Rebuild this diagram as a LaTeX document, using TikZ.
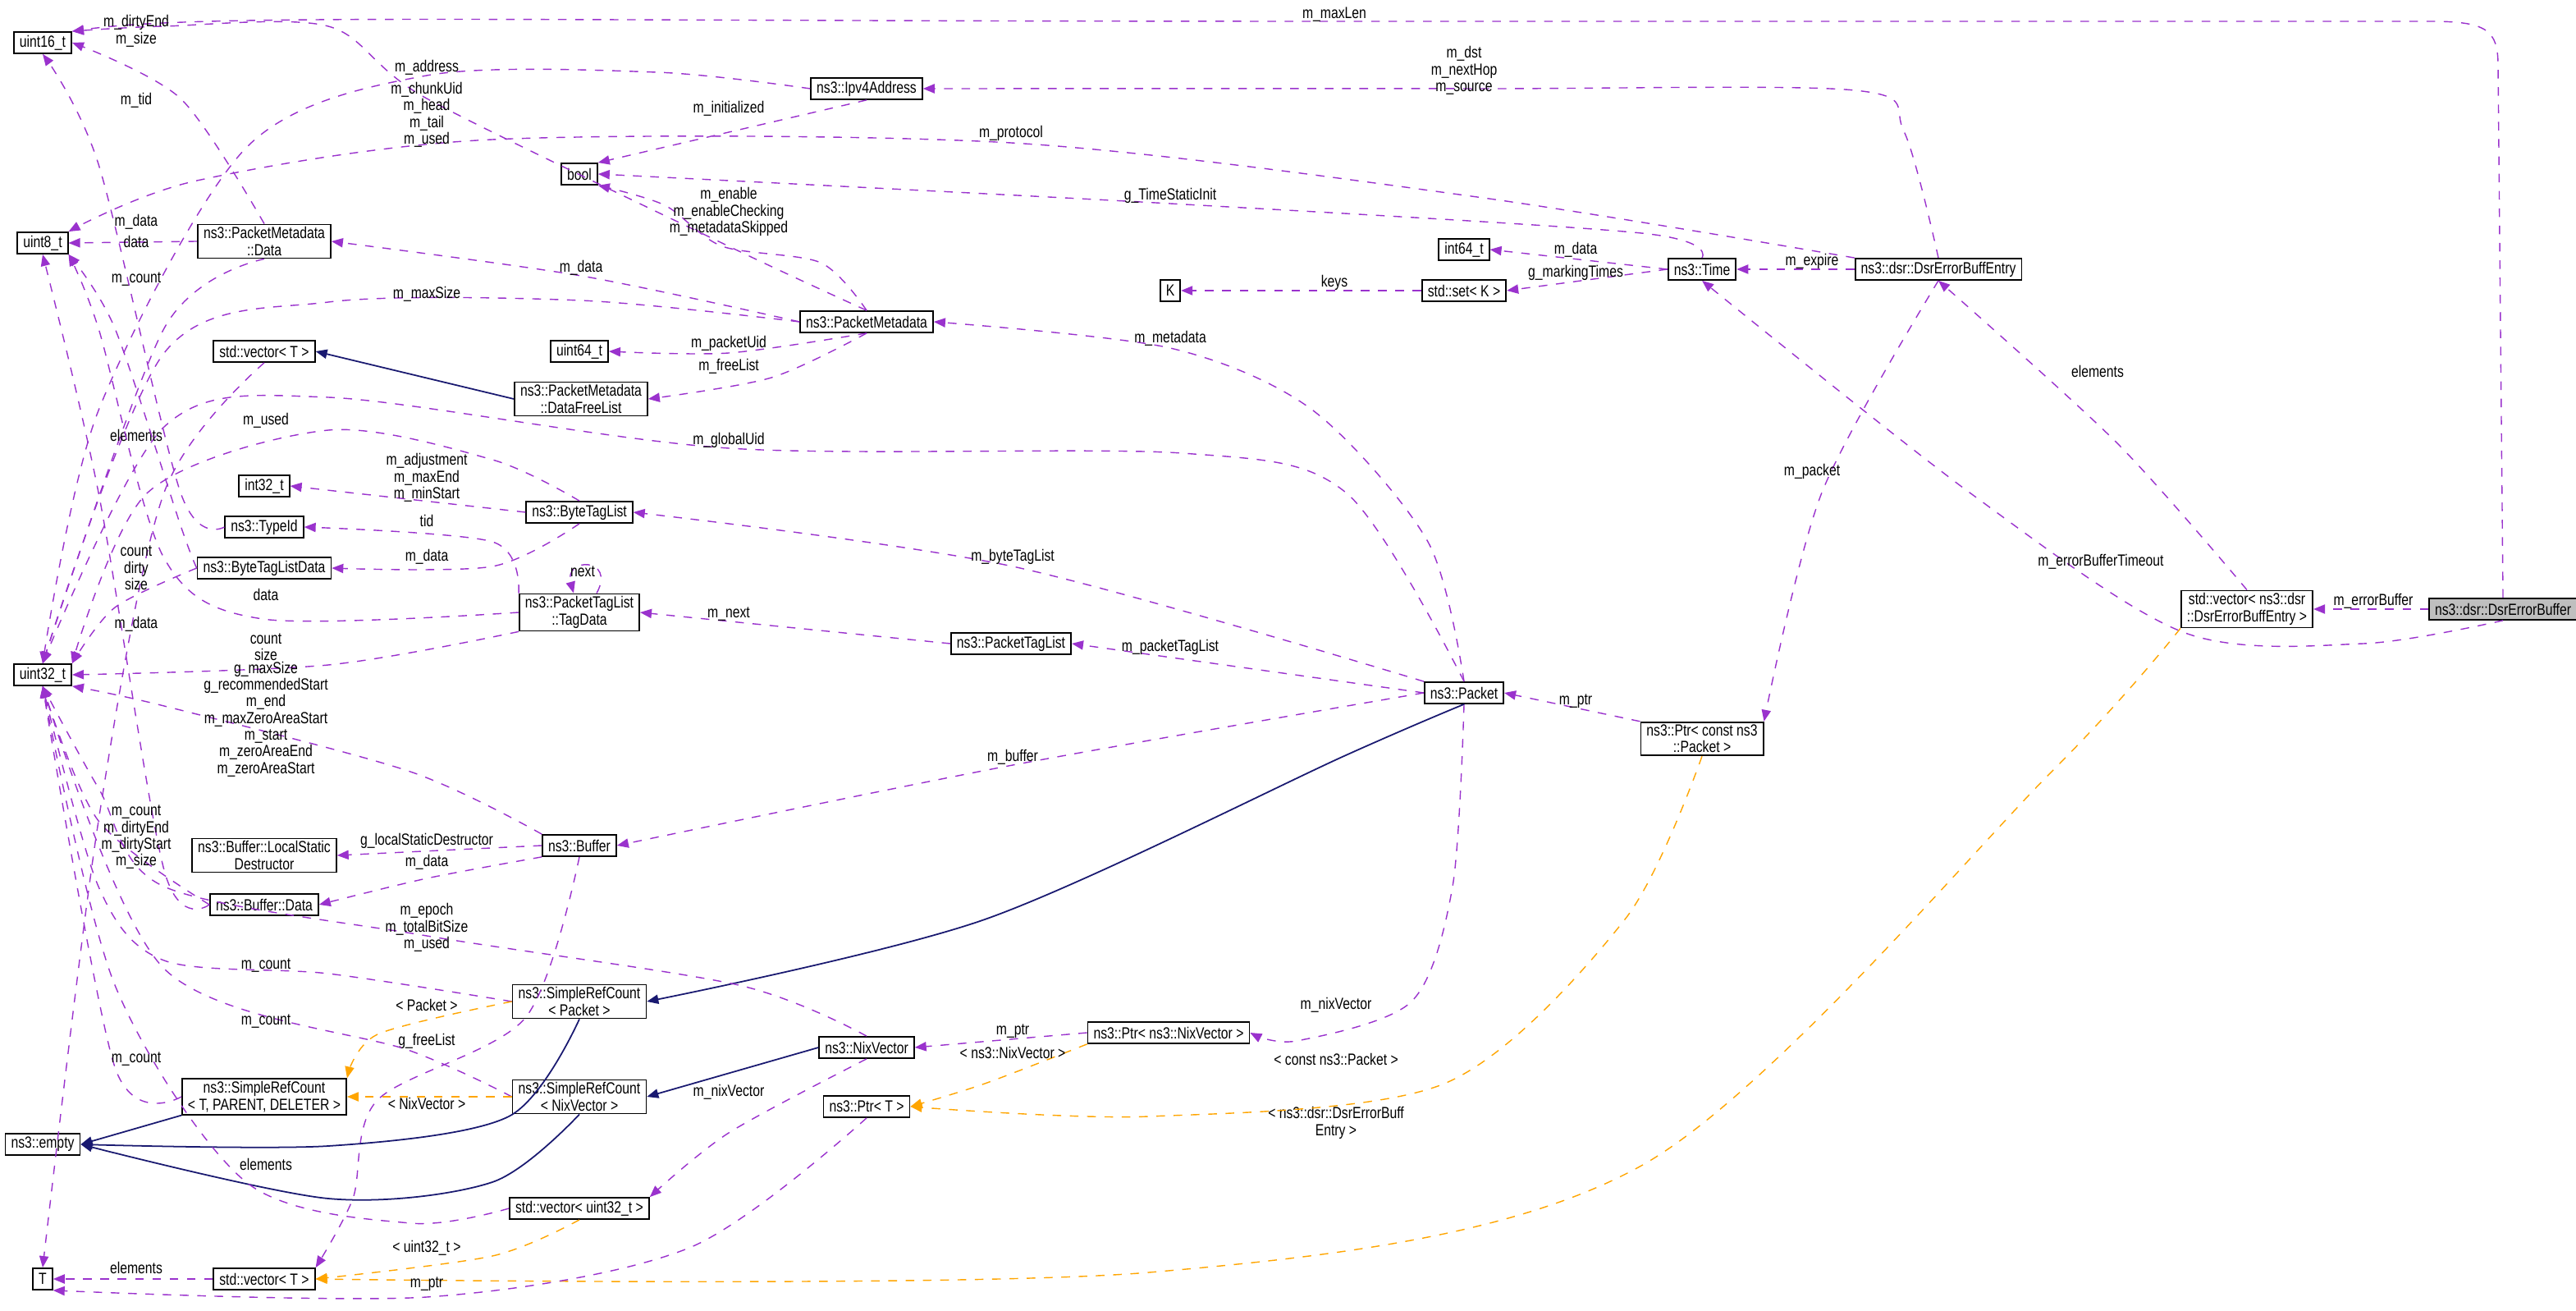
\documentclass[tikz,border=0pt]{standalone}
\usepackage{fontspec}
\setmainfont{Liberation Sans}[FakeStretch=0.8]
\usetikzlibrary{arrows.meta}
\definecolor{mem}{HTML}{9A32CD}
\definecolor{tpl}{HTML}{FFA500}
\definecolor{inh}{HTML}{191970}
\begin{document}
\begin{tikzpicture}[x=0.02cm,y=-0.02cm,
 every node/.style={font=\fontsize{5.6}{5.8}\selectfont},
 box/.style={draw,fill=white,inner xsep=2pt,inner ysep=0.9pt,minimum height=7.4pt,align=center,line width=0.5pt},
 lbl/.style={align=center,inner sep=0pt},
 memb/.style={draw=mem,dashed,-{Triangle[length=4pt,width=3.2pt]},mem,line width=0.4pt},
 tmpl/.style={draw=tpl,dashed,-{Triangle[length=4pt,width=3.2pt]},tpl,line width=0.4pt},
 inhe/.style={draw=inh,-{Triangle[length=4pt,width=3.2pt]},line width=0.5pt}]
\useasboundingbox (0,0) rectangle (1569.5,798.5);
% nodes
\node[box] (u16) at (26,26) {uint16\_t};
\node[box] (u8) at (26,148) {uint8\_t};
\node[box] (u32) at (26,411) {uint32\_t};
\node[box] (empty) at (26,697) {ns3::empty};
\node[box] (T) at (26,779) {T};
\node[box] (ipv4) at (528,54) {ns3::Ipv4Address};
\node[box] (bool) at (353,106) {bool};
\node[box] (pmdata) at (161,147) {ns3::PacketMetadata\\::Data};
\node[box] (i64) at (892,152) {int64\_t};
\node[box] (time) at (1037,164) {ns3::Time};
\node[box] (dse) at (1181,164) {ns3::dsr::DsrErrorBuffEntry};
\node[box] (K) at (713,177) {K};
\node[box] (setK) at (892,177) {std::set< K >};
\node[box] (pm) at (528,196) {ns3::PacketMetadata};
\node[box] (u64) at (353,214) {uint64\_t};
\node[box] (vecT) at (161,214) {std::vector< T >};
\node[box] (dfl) at (354,243) {ns3::PacketMetadata\\::DataFreeList};
\node[box] (i32) at (161,296) {int32\_t};
\node[box] (btl) at (353,312) {ns3::ByteTagList};
\node[box] (tid) at (161,321) {ns3::TypeId};
\node[box] (btld) at (161,346) {ns3::ByteTagListData};
\node[box] (tagd) at (353,373) {ns3::PacketTagList\\::TagData};
\node[box] (ptl) at (616,392) {ns3::PacketTagList};
\node[box] (pkt) at (892,422) {ns3::Packet};
\node[box] (ptrpkt) at (1037,450) {ns3::Ptr< const ns3\\::Packet >};
\node[box] (vecdsr) at (1369,371) {std::vector< ns3::dsr\\::DsrErrorBuffEntry >};
\node[box,fill=black!25] (dsrbuf) at (1525,371) {ns3::dsr::DsrErrorBuffer};
\node[box] (buf) at (353,515) {ns3::Buffer};
\node[box] (lsd) at (161,521) {ns3::Buffer::LocalStatic\\Destructor};
\node[box] (bufd) at (161,551) {ns3::Buffer::Data};
\node[box] (srp) at (353,610) {ns3::SimpleRefCount\\< Packet >};
\node[box] (nix) at (528,638) {ns3::NixVector};
\node[box] (ptrnix) at (712,629) {ns3::Ptr< ns3::NixVector >};
\node[box] (srT) at (161,668) {ns3::SimpleRefCount\\< T, PARENT, DELETER >};
\node[box] (srn) at (353,668) {ns3::SimpleRefCount\\< NixVector >};
\node[box] (ptrT) at (528,674) {ns3::Ptr< T >};
\node[box] (vecu) at (353,736) {std::vector< uint32\_t >};
\node[box] (vecTb) at (161,779) {std::vector< T >};
% edges
\draw[memb] (dsrbuf.north) -- (1522,40) .. controls (1522,18) and (1515,13) .. (1480,13) -- (810,13) .. controls (300,13) and (120,8) .. (u16.north east);
\node[lbl] (l1) at (813,9) {m\_maxLen};
\draw[memb] (dsrbuf.west) -- (vecdsr.east); \node[lbl] (l2) at (1446,366) {m\_errorBuffer};
\draw[memb] plot[smooth] coordinates {(dsrbuf.south) (1440,392) (1330,385) (1200,300) (time.south)};
\node[lbl] (l3) at (1280,342) {m\_errorBufferTimeout};
\draw[memb] plot[smooth] coordinates {(vecdsr.north) (1290,270) (dse.south)}; \node[lbl] (l4) at (1278,226) {elements};
\draw[tmpl] plot[smooth] coordinates {(vecdsr.south west) (1250,470) (1000,710) (700,775) (vecTb.east)};
\node[lbl] (l5) at (814,684) {< ns3::dsr::DsrErrorBuff\\Entry >};
\draw[memb] plot[smooth] coordinates {(dse.north) (1160,80) (1130,55) (900,54) (ipv4.east)}; \node[lbl] (l6) at (892,43) {m\_dst\\m\_nextHop\\m\_source};
\draw[memb] plot[smooth] coordinates {(dse.north west) (900,120) (616,87) (300,85) (120,110) (u8.north east)}; \node[lbl] (l7) at (616,81) {m\_protocol};
\draw[memb] (dse.west) -- (time.east); \node[lbl] (l8) at (1104,159) {m\_expire};
\draw[memb] plot[smooth] coordinates {(dse.south) (1110,300) (ptrpkt.north east)}; \node[lbl] (l9) at (1104,287) {m\_packet};
\draw[memb] plot[smooth] coordinates {(time.north) (1000,142) (713,124) (bool.east)}; \node[lbl] (l10) at (713,119) {g\_TimeStaticInit};
\draw[memb] (time.west) -- (i64.east); \node[lbl] (l11) at (960,152) {m\_data};
\draw[memb] (time.west) -- (setK.east); \node[lbl] (l12) at (960,166) {g\_markingTimes};
\draw[memb] (setK.west) -- (K.east); \node[lbl] (l13) at (813,172) {keys};
\draw[memb] (ptrpkt.north west) -- (pkt.east); \node[lbl] (l14) at (960,427) {m\_ptr};
\draw[tmpl] plot[smooth] coordinates {(ptrpkt.south) (990,560) (880,660) (700,680) (ptrT.east)}; \node[lbl] (l15) at (814,645) {< const ns3::Packet >};
\draw[memb] plot[smooth] coordinates {(pkt.north) (870,330) (800,250) (713,212) (pm.east)}; \node[lbl] (l16) at (713,206) {m\_metadata};
\draw[memb] plot[smooth] coordinates {(pkt.north west) (617,345) (btl.east)}; \node[lbl] (l17) at (617,339) {m\_byteTagList};
\draw[memb] (pkt.west) -- (ptl.east); \node[lbl] (l18) at (713,394) {m\_packetTagList};
\draw[memb] plot[smooth] coordinates {(pkt.west) (617,466) (buf.east)}; \node[lbl] (l19) at (617,461) {m\_buffer};
\draw[memb] plot[smooth] coordinates {(pkt.south) (885,540) (860,610) (790,634) (ptrnix.east)}; \node[lbl] (l20) at (814,612) {m\_nixVector};
\draw[memb] plot[smooth] coordinates {(pkt.north) (820,300) (720,276) (444,273) (200,242) (100,260) (u32.north)}; \node[lbl] (l21) at (444,268) {m\_globalUid};
\draw[inhe] plot[smooth] coordinates {(pkt.south) (820,460) (600,560) (srp.east)};
\draw[memb] plot[smooth] coordinates {(pm.north) (444,150) (260,60) (200,16) (100,16) (u16.north east)}; \node[lbl] (l23) at (260,70) {m\_chunkUid\\m\_head\\m\_tail\\m\_used};
\draw[memb] plot[smooth] coordinates {(pm.north) (500,160) (440,150) (405,125) (bool.south east)}; \node[lbl] (l24) at (444,129) {m\_enable\\m\_enableChecking\\m\_metadataSkipped};
\draw[memb] plot[smooth] coordinates {(pm.west) (354,168) (pmdata.east)}; \node[lbl] (l25) at (354,163) {m\_data};
\draw[memb] plot[smooth] coordinates {(pm.west) (354,183) (200,184) (100,215) (u32.north)}; \node[lbl] (l26) at (260,179) {m\_maxSize};
\draw[memb] plot[smooth] coordinates {(pm.south) (444,215) (u64.east)}; \node[lbl] (l27) at (444,209) {m\_packetUid};
\draw[memb] plot[smooth] coordinates {(pm.south) (470,230) (dfl.east)}; \node[lbl] (l28) at (444,223) {m\_freeList};
\draw[inhe] (dfl.west) -- (vecT.east);
\draw[memb] plot[smooth] coordinates {(ipv4.west) (400,44) (260,46) (150,90) (60,250) (u32.north)}; \node[lbl] (l30) at (260,41) {m\_address};
\draw[memb] (ipv4.south) -- (bool.north east); \node[lbl] (l31) at (444,66) {m\_initialized};
\draw[memb] plot[smooth] coordinates {(pmdata.north) (110,60) (u16.east)}; \node[lbl] (l32) at (83,19) {m\_dirtyEnd\\m\_size};
\draw[memb] (pmdata.west) -- (u8.east); \node[lbl] (l33) at (83,135) {m\_data};
\draw[memb] plot[smooth] coordinates {(pmdata.south) (100,200) (u32.north)}; \node[lbl] (l34) at (83,170) {m\_count};
\draw[memb] plot[smooth] coordinates {(vecT.south) (100,300) (60,500) (T.north)}; \node[lbl] (l35) at (83,265) {elements};
\draw[memb] (btl.west) -- (i32.east); \node[lbl] (l36) at (260,291) {m\_adjustment\\m\_maxEnd\\m\_minStart};
\draw[memb] plot[smooth] coordinates {(btl.south) (300,345) (btld.east)}; \node[lbl] (l37) at (260,339) {m\_data};
\draw[memb] plot[smooth] coordinates {(btl.north) (300,280) (200,262) (90,300) (u32.north east)}; \node[lbl] (l38) at (162,256) {m\_used};
\draw[memb] plot[smooth] coordinates {(btld.west) (110,320) (70,200) (u8.south east)}; \node[lbl] (l39) at (83,147) {data};
\draw[memb] plot[smooth] coordinates {(btld.west) (70,370) (u32.north east)}; \node[lbl] (l40) at (83,346) {count\\dirty\\size};
\draw[memb] plot[smooth] coordinates {(tid.west) (110,300) (60,100) (u16.south)}; \node[lbl] (l41) at (83,61) {m\_tid};
\draw[memb] plot[smooth] coordinates {(tagd.north west) (300,330) (tid.east)}; \node[lbl] (l42) at (260,317) {tid};
\draw[memb] ([xshift=6pt]tagd.north) .. controls +(12,-22) and +(-6,-22) .. ([xshift=-2pt]tagd.north); \node[lbl] (l43) at (355,348) {next};
\draw[memb] plot[smooth] coordinates {(tagd.west) (160,377) (100,340) (60,200) (u8.south east)}; \node[lbl] (l44) at (162,362) {data};
\draw[memb] plot[smooth] coordinates {(tagd.south west) (200,405) (u32.east)}; \node[lbl] (l45) at (162,394) {count\\size};
\draw[memb] (ptl.west) -- (tagd.east); \node[lbl] (l46) at (444,374) {m\_next};
\draw[memb] plot[smooth] coordinates {(buf.north west) (250,470) (100,430) (u32.south east)}; \node[lbl] (l47) at (162,438) {g\_maxSize\\g\_recommendedStart\\m\_end\\m\_maxZeroAreaStart\\m\_start\\m\_zeroAreaEnd\\m\_zeroAreaStart};
\draw[memb] (buf.west) -- (lsd.east); \node[lbl] (l48) at (260,512) {g\_localStaticDestructor};
\draw[memb] plot[smooth] coordinates {(buf.south west) (260,535) (bufd.east)}; \node[lbl] (l49) at (260,525) {m\_data};
\draw[memb] plot[smooth] coordinates {(buf.south) (320,620) (230,670) (215,730) (vecTb.north east)}; \node[lbl] (l50) at (260,634) {g\_freeList};
\draw[memb] plot[smooth] coordinates {(bufd.west) (100,530) (60,300) (u8.south)}; \node[lbl] (l51) at (83,380) {m\_data};
\draw[memb] plot[smooth] coordinates {(bufd.west) (60,500) (u32.south)}; \node[lbl] (l52) at (83,510) {m\_count\\m\_dirtyEnd\\m\_dirtyStart\\m\_size};
\draw[memb] plot[smooth] coordinates {(srp.west) (200,593) (100,585) (60,540) (u32.south)}; \node[lbl] (l53) at (162,588) {m\_count};
\draw[inhe] plot[smooth] coordinates {(srp.south) (310,680) (200,698) (empty.east)};
\draw[tmpl] plot[smooth] coordinates {(srp.west) (230,630) (srT.north east)}; \node[lbl] (l55) at (260,612) {< Packet >};
\draw[memb] plot[smooth] coordinates {(nix.north) (450,600) (260,570) (100,540) (60,480) (u32.south)}; \node[lbl] (l56) at (260,565) {m\_epoch\\m\_totalBitSize\\m\_used};
\draw[inhe] (nix.west) -- (srn.east);
\draw[memb] plot[smooth] coordinates {(nix.south) (444,690) (vecu.north east)}; \node[lbl] (l58) at (444,665) {m\_nixVector};
\draw[memb] (ptrnix.west) -- (nix.east); \node[lbl] (l59) at (617,628) {m\_ptr};
\draw[tmpl] plot[smooth] coordinates {(ptrnix.south west) (600,660) (ptrT.east)}; \node[lbl] (l60) at (617,641) {< ns3::NixVector >};
\draw[memb] plot[smooth] coordinates {(srn.west) (250,640) (100,590) (u32.south)}; \node[lbl] (l61) at (162,622) {m\_count};
\draw[inhe] plot[smooth] coordinates {(srn.south) (300,720) (200,730) (empty.east)};
\draw[tmpl] (srn.west) -- (srT.east); \node[lbl] (l63) at (260,672) {< NixVector >};
\draw[memb] plot[smooth] coordinates {(srT.west) (70,650) (u32.south)}; \node[lbl] (l64) at (83,645) {m\_count};
\draw[inhe] (srT.south west) -- (empty.east);
\draw[memb] plot[smooth] coordinates {(vecu.west) (250,745) (150,720) (70,600) (u32.south)}; \node[lbl] (l66) at (162,709) {elements};
\draw[tmpl] plot[smooth] coordinates {(vecu.south) (300,765) (vecTb.east)}; \node[lbl] (l67) at (260,760) {< uint32\_t >};
\draw[memb] plot[smooth] coordinates {(ptrT.south) (420,760) (260,790) (T.south east)}; \node[lbl] (l68) at (260,782) {m\_ptr};
\draw[memb] (vecTb.west) -- (T.east); \node[lbl] (l69) at (83,772) {elements};
\end{tikzpicture}
\end{document}
